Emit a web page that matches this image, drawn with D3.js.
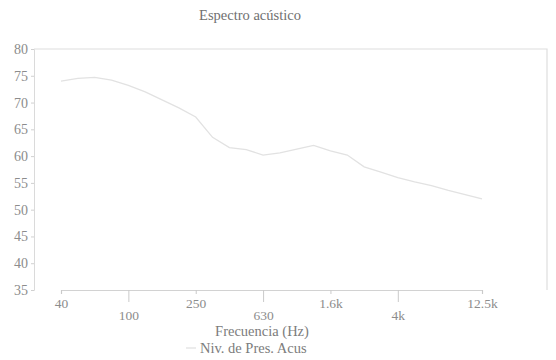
<!DOCTYPE html>
<html>
<head>
<meta charset="utf-8">
<script src="https://cdn.jsdelivr.net/npm/d3@7"></script>
<style>
  body { margin: 0; background: #fff; }
  svg { display: block; }
  svg text { font-family: "Liberation Serif", "Times New Roman", serif; }
</style>
</head>
<body>
<svg id="chart" width="556" height="360"></svg>
<script>
// Third-octave band centre frequencies (Hz)
const bands = [40, 50, 63, 80, 100, 125, 160, 200, 250, 315, 400, 500, 630,
               800, 1000, 1250, 1600, 2000, 2500, 3150, 4000, 5000, 6300,
               8000, 10000, 12500];
// Sound pressure level per band (dB)
const levels = [74.0, 74.5, 74.7, 74.2, 73.2, 72.0, 70.5, 69.0, 67.3, 63.5,
                61.6, 61.2, 60.2, 60.6, 61.3, 62.0, 61.0, 60.2, 58.0, 57.0,
                56.0, 55.2, 54.5, 53.6, 52.8, 52.0];
// Labelled bands on the frequency axis
const xTickValues = [40, 100, 250, 630, 1600, 4000, 12500];
const xTickLabels = ["40", "100", "250", "630", "1.6k", "4k", "12.5k"];
const yTickValues = [35, 40, 45, 50, 55, 60, 65, 70, 75, 80];

const svg = d3.select("#chart");
const plot = { left: 34, right: 547, top: 49, bottom: 290 };

const x = d3.scalePoint()
  .domain(bands)
  .range([plot.left + 27, plot.right - 65]);

const y = d3.scaleLinear()
  .domain([35, 80])
  .range([plot.bottom, plot.top]);

// Title
svg.append("text")
  .attr("x", 250).attr("y", 20)
  .attr("text-anchor", "middle")
  .style("font-size", "14.5px")
  .attr("fill", "#707070")
  .text("Espectro acústico");

// Plot frame (top and right edges)
svg.append("path")
  .attr("d", `M${plot.left},${plot.top}H${plot.right}V${plot.bottom}`)
  .attr("fill", "none")
  .attr("stroke", "#dedede")
  .attr("stroke-width", 1.2);

// Y axis
const yAxis = svg.append("g")
  .attr("transform", `translate(${plot.left},0)`)
  .call(d3.axisLeft(y).tickValues(yTickValues).tickSize(3).tickPadding(3));
yAxis.attr("font-family", null);
yAxis.select(".domain").attr("stroke", "#dadada");
yAxis.selectAll(".tick line").attr("stroke", "#d0d0d0");
yAxis.selectAll(".tick text")
  .style("font-size", "14px")
  .attr("fill", "#8c8c8c");

// X axis with staggered labels
const xAxis = svg.append("g")
  .attr("transform", `translate(0,${plot.bottom})`)
  .call(d3.axisBottom(x)
    .tickValues(xTickValues)
    .tickFormat((d, i) => xTickLabels[i])
    .tickSize(4)
    .tickPadding(6));
xAxis.attr("font-family", null);
xAxis.select(".domain").attr("stroke", "#d2d2d2").attr("stroke-width", 1.2);
xAxis.selectAll(".tick line")
  .attr("stroke", "#cacaca")
  .attr("y2", (d, i) => i % 2 ? 12 : 4);
xAxis.selectAll(".tick text")
  .style("font-size", "13.5px")
  .attr("fill", "#8c8c8c")
  .attr("y", (d, i) => i % 2 ? 20 : 8);

// Axis title
svg.append("text")
  .attr("x", 262).attr("y", 336)
  .attr("text-anchor", "middle")
  .style("font-size", "14.5px")
  .attr("fill", "#7c7c7c")
  .text("Frecuencia (Hz)");

// Spectrum line
const line = d3.line()
  .x((d, i) => x(bands[i]))
  .y(d => y(d));

svg.append("path")
  .datum(levels)
  .attr("d", line)
  .attr("fill", "none")
  .attr("stroke", "#e2e2e2")
  .attr("stroke-width", 1.3);

// Legend
const legend = svg.append("g").attr("transform", "translate(186,352)");
legend.append("line")
  .attr("x1", 0).attr("x2", 10).attr("y1", -4).attr("y2", -4)
  .attr("stroke", "#e2e2e2").attr("stroke-width", 1.3);
legend.append("text")
  .attr("x", 14).attr("y", 1)
  .style("font-size", "14.5px")
  .attr("fill", "#7c7c7c")
  .text("Niv. de Pres. Acus");
</script>
</body>
</html>
